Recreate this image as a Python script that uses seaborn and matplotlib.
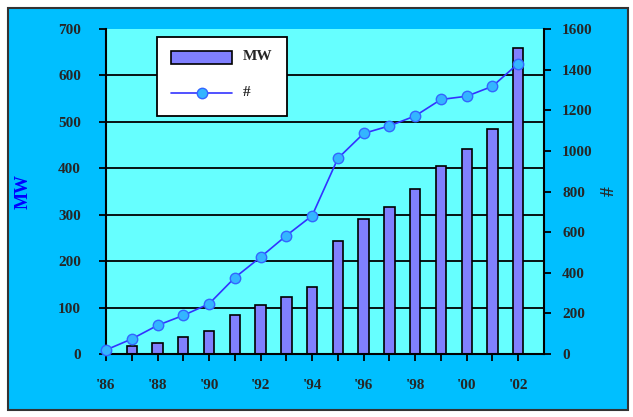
import numpy as np
import pandas as pd
import matplotlib
matplotlib.use('Agg')
import matplotlib.pyplot as plt
from matplotlib.patches import Patch, Rectangle
from matplotlib.lines import Line2D
import seaborn as sns

# Data
years = ['1986', '1987', '1988', '1989', '1990', '1991', '1992', '1993', '1994',
         '1995', '1996', '1997', '1998', '1999', '2000', '2001', '2002']
mw = [4, 17, 24, 37, 50, 84, 105, 123, 144, 243, 290, 316, 356, 405, 441, 484, 659]
count = [20, 74, 141, 190, 247, 376, 477, 583, 681, 963, 1086, 1123, 1172, 1253, 1269, 1318, 1430]
left_ticks = [0, 100, 200, 300, 400, 500, 600, 700]
right_ticks = [0, 200, 400, 600, 800, 1000, 1200, 1400, 1600]

df = pd.DataFrame({'year': years, 'mw': mw, 'count': count})
df['pos'] = np.arange(len(df))

sns.set_style('white')
plt.rcParams['font.family'] = ['Liberation Serif', 'DejaVu Serif']
plt.rcParams['font.weight'] = 'bold'

fig = plt.figure(figsize=(6.33, 4.17), dpi=100)
fig.patch.set_facecolor('white')
# outer blue chart area
fig.add_artist(Rectangle((8/633, 1-410/417), 620/633, 402/417, transform=fig.transFigure,
                         facecolor='#00BFFF', edgecolor='#333333', linewidth=1.5, zorder=-10))

ax = fig.add_axes([106/633, 1-354/417, 438/633, 325/417])
ax.set_facecolor('#66FFFF')

# Bars (MW)
sns.barplot(data=df, x='year', y='mw', color='#8080FF', saturation=1, width=0.4,
            edgecolor='black', linewidth=1.2, ax=ax)
ax.set_axisbelow(True)
for v in left_ticks[1:-1]:
    ax.axhline(v, color='black', linewidth=1.3, zorder=0.5)

ax.set_xlim(0, len(years))
ax.set_ylim(0, 700)
ax.set_yticks(left_ticks)
ax.set_yticklabels([str(t) for t in left_ticks], fontsize=11, fontweight='bold')
ax.set_xticks(df['pos'])
ax.set_xticklabels(["'" + y[2:] if i % 2 == 0 else '' for i, y in enumerate(years)],
                   fontsize=11, fontweight='bold')
ax.tick_params(axis='y', direction='out', length=5, width=1.3, color='black', pad=13, left=True)
ax.tick_params(axis='x', direction='out', length=5, width=1.3, color='black', pad=13, bottom=True)
ax.set_xlabel('')
ax.set_ylabel('MW', color='#0000FF', fontsize=13, fontweight='bold')
ax.yaxis.set_label_coords(-0.17, 0.5)
for s in ['left', 'bottom']:
    ax.spines[s].set_color('black')
    ax.spines[s].set_linewidth(1.5)
ax.spines['top'].set_visible(False)
ax.spines['right'].set_visible(False)

# Line (#) on secondary axis
ax2 = ax.twinx()
sns.lineplot(data=df, x='pos', y='count', color='#3333FF', linewidth=1.2, marker='o',
             markersize=7.5, markerfacecolor='#33B5FF', markeredgecolor='#3366FF',
             markeredgewidth=1, ax=ax2, clip_on=False)
ax2.set_xlim(0, len(years))
ax2.set_ylim(0, 1600)
ax2.set_yticks(right_ticks)
ax2.set_yticklabels([str(t) for t in right_ticks], fontsize=11, fontweight='bold')
ax2.tick_params(axis='y', direction='out', length=5, width=1.3, color='black', pad=8, right=True)
ax2.set_ylabel('#', fontsize=14, fontweight='bold')
ax2.yaxis.set_label_coords(1.13, 0.5)
ax2.spines['right'].set_color('black')
ax2.spines['right'].set_linewidth(1.5)
for s in ['top', 'left', 'bottom']:
    ax2.spines[s].set_visible(False)

handles = [Patch(facecolor='#8080FF', edgecolor='black', linewidth=1.2),
           Line2D([], [], color='#3333FF', linewidth=1.2, marker='o', markersize=7.5,
                  markerfacecolor='#33B5FF', markeredgecolor='#3366FF')]
leg = ax2.legend(handles, ['MW', '#'], loc='upper left', bbox_to_anchor=(0.116, 0.976),
                 borderaxespad=0, frameon=True, fancybox=False, edgecolor='black',
                 facecolor='white', framealpha=1, fontsize=11, handlelength=4.0,
                 handleheight=0.9, labelspacing=1.4, borderpad=0.95, handletextpad=0.7)
leg.get_frame().set_linewidth(1.3)
for t in leg.get_texts():
    t.set_fontweight('bold')
    t.set_va('bottom')

fig.savefig('out.png', dpi=100)
